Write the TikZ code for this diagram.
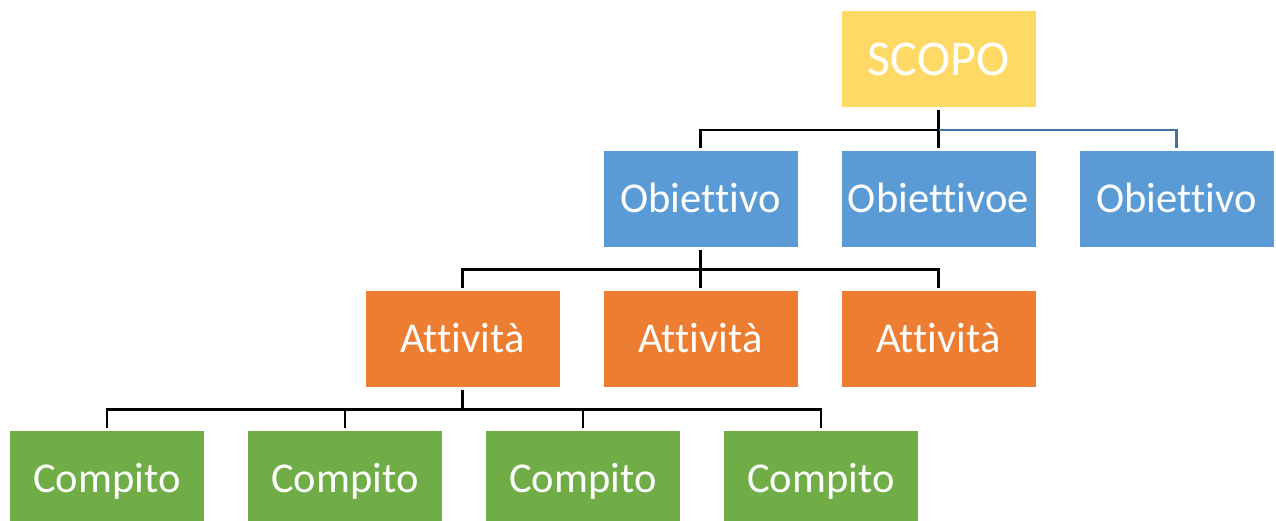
\documentclass[tikz,border=0pt]{standalone}
\usepackage{fontspec}
\setmainfont{Carlito}[Ligatures=NoCommon]
\definecolor{goalyellow}{RGB}{255,217,102}
\definecolor{objblue}{RGB}{91,155,213}
\definecolor{actorange}{RGB}{237,125,49}
\definecolor{taskgreen}{RGB}{112,173,71}
\definecolor{linkblue}{RGB}{65,113,156}
\usetikzlibrary{positioning}

\begin{document}
\begin{tikzpicture}[x=1pt, y=-1pt, node distance=38pt,
    box/.style={minimum width=194pt, minimum height=96pt, inner sep=0pt, outer sep=3pt,
                text=white, font=\fontsize{42.5}{50}\selectfont, text height=27pt, text depth=0pt},
    goalbox/.style={box, fill=goalyellow, font=\fontsize{50}{60}\selectfont, text height=32pt},
    objbox/.style={box, fill=objblue},
    actbox/.style={box, fill=actorange},
    taskbox/.style={box, fill=taskgreen},
    link/.style={draw=black, line width=2.4pt}]
    \useasboundingbox (0,0) rectangle (1276,520);

    \node[goalbox] (scopo) at (938.5,59) {SCOPO};

    \node[objbox] (obj1) at (700.5,198.5) {Obiettivo};
    \node[objbox, right=of obj1] (obj2) {Obiettivoe};
    \node[objbox, right=of obj2] (obj3) {Obiettivo};

    \node[actbox] (act1) at (462.5,338.5) {Attività};
    \node[actbox, right=of act1] (act2) {Attività};
    \node[actbox, right=of act2] (act3) {Attività};

    \node[taskbox] (task1) at (107,479) {Compito};
    \node[taskbox, right=of task1] (task2) {Compito};
    \node[taskbox, right=of task2] (task3) {Compito};
    \node[taskbox, right=of task3] (task4) {Compito};

    % scopo -> obiettivi
    \draw[link] (scopo.south) -- ++(0,20) coordinate (j1) -| (obj1.north);
    \draw[link] (j1) -- (obj2.north);
    \draw[link, draw=linkblue] (j1) -| (obj3.north);

    % obiettivo -> attivita
    \draw[link] (obj1.south) -- ++(0,20) coordinate (j2) -| (act1.north);
    \draw[link] (j2) -- (act2.north);
    \draw[link] (j2) -| (act3.north);

    % attivita -> compiti
    \draw[link] (act1.south) -- ++(0,20) coordinate (j3) -| (task1.north);
    \foreach \t in {2,3,4}
      \draw[link] (j3) -| (task\t.north);
\end{tikzpicture}
\end{document}
